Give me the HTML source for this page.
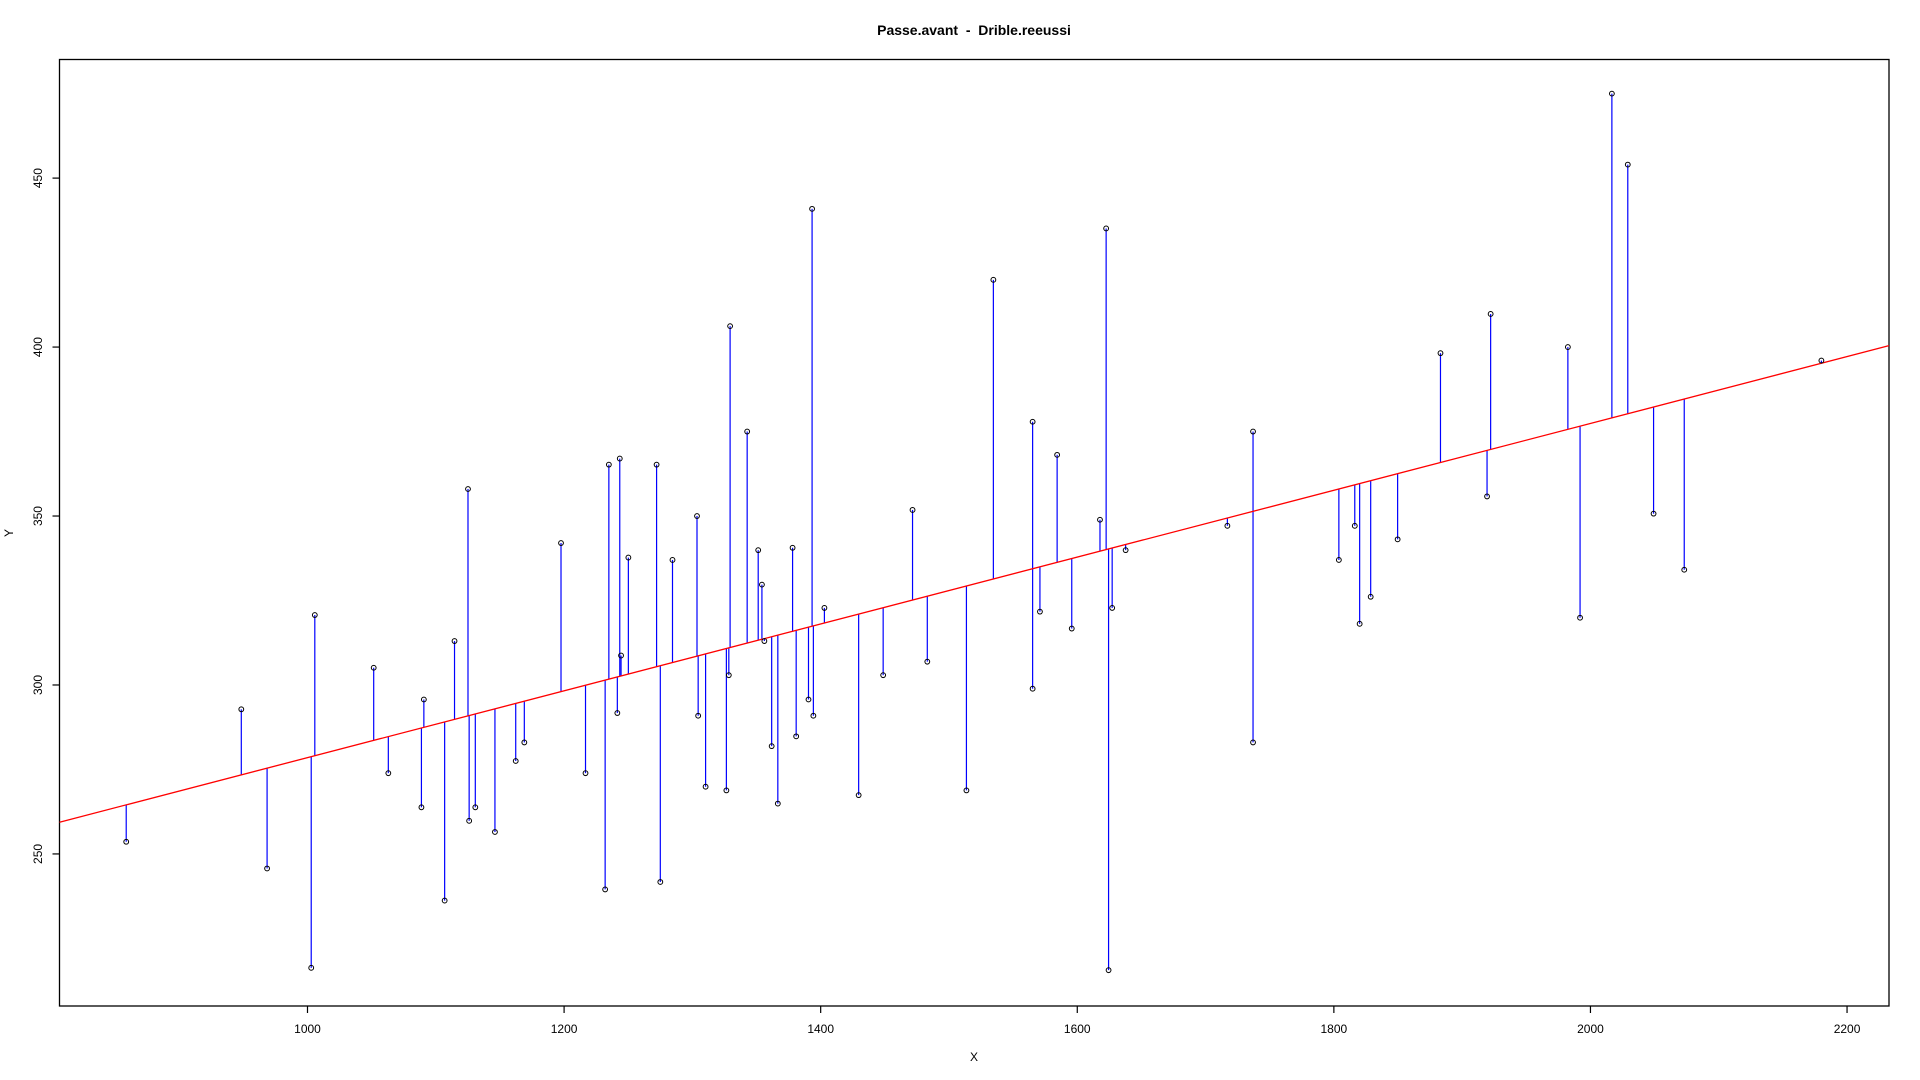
<!DOCTYPE html>
<html><head><meta charset="utf-8"><style>
html,body{margin:0;padding:0;background:#fff;}
svg{display:block;font-family:"Liberation Sans",Arial,sans-serif;}
</style></head><body>
<svg id="chart" width="1920" height="1080" viewBox="0 0 1920 1080" xmlns="http://www.w3.org/2000/svg">
<text x="974" y="35" text-anchor="middle" font-size="14" font-weight="bold" style="white-space:pre">Passe.avant  -  Drible.reeussi</text>
<rect x="59.5" y="59.5" width="1829.5" height="946.5" fill="none" stroke="#000" stroke-width="1.3"/>
<text x="974" y="1061" text-anchor="middle" font-size="12">X</text>
<text x="13" y="533" text-anchor="middle" font-size="12" transform="rotate(-90 13 533)">Y</text>
<g id="g-axes"></g>
<g id="g-res"></g>
<g id="g-fit"></g>
<g id="g-pts"></g>
</svg>
<script>
const xValues=[858.7,948.4,968.5,1002.9,1005.7,1051.6,1063,1088.8,1090.7,1106.9,1114.6,1125.1,1126,1130.8,1146.1,1162.3,1169,1197.6,1216.7,1232,1234.9,1241.5,1243.4,1244.4,1250.1,1272.1,1275,1284.5,1303.6,1304.5,1310.3,1326.5,1328.4,1329.4,1342.7,1351.3,1354.2,1356.1,1361.8,1366.6,1378.1,1380.9,1390.5,1393.3,1394.3,1402.9,1429.6,1448.7,1471.6,1483.1,1513.6,1534.6,1565.2,1565.2,1570.9,1584.3,1595.7,1617.7,1622.5,1624.4,1627.2,1637.7,1717,1737,1737,1803.9,1816.3,1820.1,1828.7,1849.7,1883.1,1919.4,1922.2,1982.4,1991.9,2016.7,2029.1,2049.2,2073.1,2180];
const yValues=[253.6,292.8,245.7,216.3,320.7,305.1,273.9,263.8,295.7,236.2,313.0,358.0,259.8,263.8,256.5,277.5,283.0,342.0,273.9,239.5,365.2,291.7,367.0,308.7,337.7,365.2,241.7,337.0,350.0,290.9,269.9,268.8,302.9,406.2,375.0,339.9,329.7,313.0,281.9,264.9,340.6,284.8,295.7,440.9,290.9,322.8,267.4,302.9,351.8,306.9,268.8,419.9,298.9,377.9,321.7,368.1,316.7,348.9,435.1,215.6,322.8,339.9,347.1,375.0,283.0,337.0,347.1,318.1,326.1,343.1,398.2,355.8,409.8,400.0,319.9,475.0,454.0,350.7,334.1,396.0];
const xTicks=[1000,1200,1400,1600,1800,2000,2200];
const yTicks=[250,300,350,400,450];
const fitIntercept=179.6;
const fitSlope=0.0989;
const xDomain=[806.7,2232.7];
const yDomain=[205.0,485.1];

const L=59.5,R=1889,T=59.5,B=1006;
const sx=v=>L+(v-xDomain[0])/(xDomain[1]-xDomain[0])*(R-L);
const sy=v=>B-(v-yDomain[0])/(yDomain[1]-yDomain[0])*(B-T);
const NS='http://www.w3.org/2000/svg';
function mk(tag,parent,attrs){const e=document.createElementNS(NS,tag);for(const k in attrs)e.setAttribute(k,attrs[k]);parent.appendChild(e);return e;}
const gA=document.getElementById('g-axes'),gR=document.getElementById('g-res'),gF=document.getElementById('g-fit'),gP=document.getElementById('g-pts');
xTicks.forEach(t=>{
  const x=sx(t);
  const tk=mk('line',gA,{x1:x,x2:x,y1:B,y2:B+7,stroke:'#000','stroke-width':1.2});
  
  
  const lb=mk('text',gA,{x:x,y:B+27,'text-anchor':'middle','font-size':12});
  lb.textContent=t;
  
  
});
yTicks.forEach(t=>{
  const y=sy(t);
  const tk=mk('line',gA,{x1:L-7,x2:L,y1:y,y2:y,stroke:'#000','stroke-width':1.2});
  
  
  const lb=mk('text',gA,{x:42,y:y,'text-anchor':'middle','font-size':12,transform:'rotate(-90 42 '+y+')'});
  lb.textContent=t;
  
  
});
const fit=v=>fitIntercept+fitSlope*v;
const fl=mk('line',gF,{x1:sx(xDomain[0]),y1:sy(fit(xDomain[0])),x2:sx(xDomain[1]),y2:sy(fit(xDomain[1])),stroke:'#ff0000','stroke-width':1.3});


xValues.forEach((xv,i)=>{
  const x=sx(xv),y=sy(yValues[i]);
  const r=mk('line',gR,{x1:x,x2:x,y1:y,y2:sy(fit(xv)),stroke:'#0000ff','stroke-width':1.2});
  
  
  const c=mk('circle',gP,{cx:x,cy:y,r:2.4,fill:'none',stroke:'#000','stroke-width':1});
  
  
});
</script>
</body></html>
